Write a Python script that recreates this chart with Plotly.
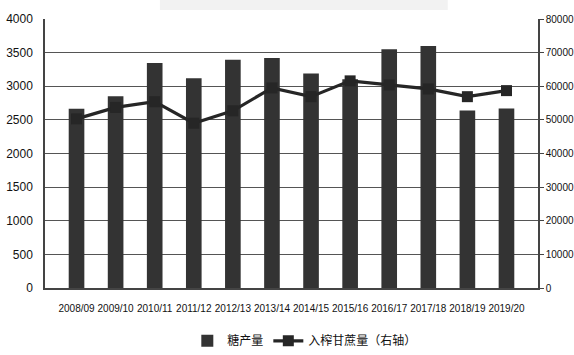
import plotly.graph_objects as go

categories = ["2008/09", "2009/10", "2010/11", "2011/12", "2012/13", "2013/14",
              "2014/15", "2015/16", "2016/17", "2017/18", "2018/19", "2019/20"]
sugar = [2665, 2850, 3345, 3120, 3395, 3420, 3190, 3105, 3550, 3600, 2640, 2670]
cane = [50300, 53700, 55400, 49000, 52700, 59500, 56900, 61600, 60400, 59200, 56900, 58700]
left_ticks = [0, 500, 1000, 1500, 2000, 2500, 3000, 3500, 4000]
right_ticks = [0, 10000, 20000, 30000, 40000, 50000, 60000, 70000, 80000]

FONT = "Liberation Sans"

fig = go.Figure()
fig.add_trace(go.Bar(x=categories, y=sugar, name="糖产量",
                     marker=dict(color="#333333", line=dict(width=0)),
                     width=0.4))
fig.add_trace(go.Scatter(x=categories, y=cane, name="入榨甘蔗量（右轴）", yaxis="y2",
                         mode="lines+markers",
                         line=dict(color="#262626", width=3.2),
                         marker=dict(symbol="square", size=11, color="#262626")))

fig.update_layout(
    width=574, height=355,
    margin=dict(l=45, r=36, t=19, b=67, autoexpand=False),
    paper_bgcolor="white", plot_bgcolor="white",
    font=dict(family=FONT, size=11, color="#111111"),
    showlegend=True,
    legend=dict(orientation="h", x=0.527, xanchor="center", y=0.04, yanchor="middle",
                yref="container",
                font=dict(size=12, family="Noto Sans CJK SC"), itemwidth=30),
    xaxis=dict(showline=True, linecolor="#444444", linewidth=1.5, ticks="",
               tickangle=0, tickfont=dict(size=10), showgrid=False, automargin=False,
               ticklabelstandoff=10),
    yaxis=dict(range=[0, 4000], tickvals=left_ticks, showgrid=True,
               gridcolor="#555555", gridwidth=1.2, showline=True,
               linecolor="#444444", linewidth=1.5, tickfont=dict(size=12),
               ticks="", zeroline=False, automargin=False, ticklabelstandoff=8),
    yaxis2=dict(range=[0, 80000], tickvals=right_ticks, overlaying="y", side="right",
                tickformat="d", automargin=False,
                showgrid=False, showline=True, linecolor="#444444", linewidth=1.5,
                ticks="outside", ticklen=4, tickcolor="#444444",
                tickfont=dict(size=10), zeroline=False),
    shapes=[dict(type="rect", xref="paper", yref="paper", x0=0.233, x1=0.817,
                 y0=1.033, y1=1.075, fillcolor="#f2f2f2", line=dict(width=0), layer="below")],
)

fig.write_html("out.html")
